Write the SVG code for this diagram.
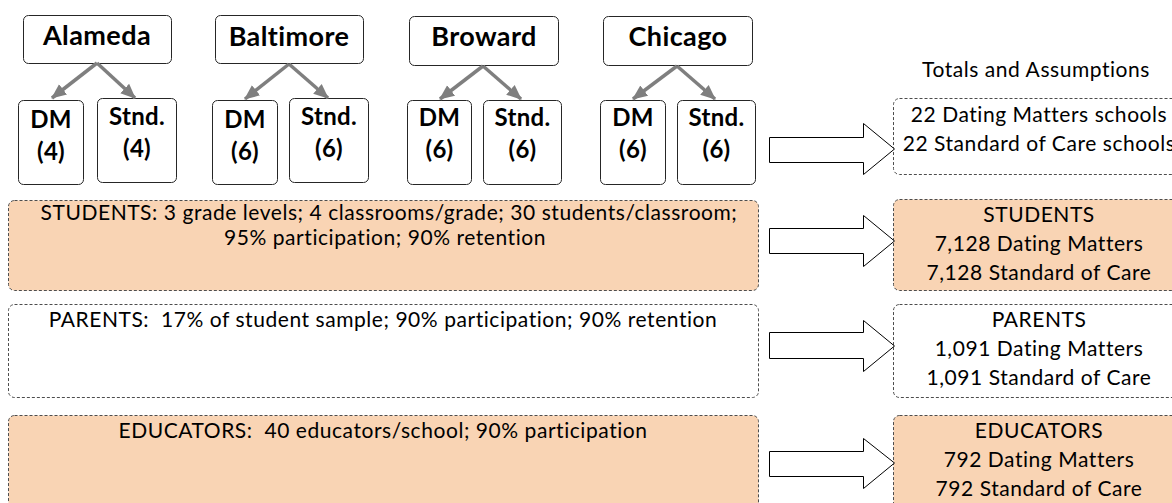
<svg xmlns="http://www.w3.org/2000/svg" width="1172" height="503" viewBox="0 0 1172 503">
  <defs>
    <style>
      .city { fill: #ffffff; stroke: #262626; stroke-width: 1; }
      .city-t { font-family: Lato, "Liberation Sans", sans-serif; font-weight: bold; font-size: 27px; letter-spacing: 0.4px; fill: #000; text-anchor: middle; }
      .arm { fill: #ffffff; stroke: #262626; stroke-width: 1; }
      .arm-t { font-family: Lato, "Liberation Sans", sans-serif; font-weight: bold; font-size: 24px; letter-spacing: 0.3px; fill: #000; text-anchor: middle; }
      .dash { stroke: #4d4d4d; stroke-width: 1; stroke-dasharray: 3 2; }
      .peach { fill: #f9d4b4; }
      .plain { fill: #ffffff; }
      .t { font-family: Lato, "Liberation Sans", sans-serif; font-size: 21px; letter-spacing: 0.55px; fill: #000; text-anchor: middle; }
      .link { fill: none; stroke: #7f7f7f; stroke-width: 3.5; marker-end: url(#head); }
      .block { fill: #ffffff; stroke: #000; stroke-width: 1; }
    </style>
    <marker id="head" markerUnits="userSpaceOnUse" markerWidth="16" markerHeight="16" viewBox="0 0 16 16" refX="14" refY="8" orient="auto">
      <path d="M0,1.5 L15,8 L0,14.5 Z" fill="#7f7f7f"/>
    </marker>
  </defs>

  <!-- heading for the right-hand column -->
  <text class="t" x="1036" y="77">Totals and Assumptions</text>

  <!-- sites -->
  <g id="alameda">
    <rect class="city" x="23.5" y="15.5" width="148" height="48" rx="5"/>
    <text class="city-t" x="97" y="45">Alameda</text>
  </g>
  <g id="baltimore">
    <rect class="city" x="215.5" y="15.5" width="148" height="48" rx="5"/>
    <text class="city-t" x="289" y="46">Baltimore</text>
  </g>
  <g id="broward">
    <rect class="city" x="409.5" y="16.5" width="149" height="49" rx="5"/>
    <text class="city-t" x="484" y="46">Broward</text>
  </g>
  <g id="chicago">
    <rect class="city" x="603.5" y="16.5" width="149" height="49" rx="5"/>
    <text class="city-t" x="678" y="46">Chicago</text>
  </g>

  <!-- study arms per site -->
  <g id="alameda-dm">
    <rect class="arm" x="18.5" y="100.5" width="65" height="84" rx="5"/>
    <text class="arm-t" x="51" y="128">DM</text>
    <text class="arm-t" x="51" y="160">(4)</text>
  </g>
  <g id="alameda-stnd">
    <rect class="arm" x="97.5" y="98.5" width="79" height="84" rx="5"/>
    <text class="arm-t" x="137" y="125">Stnd.</text>
    <text class="arm-t" x="137" y="157">(4)</text>
  </g>
  <g id="baltimore-dm">
    <rect class="arm" x="212.5" y="100.5" width="65" height="84" rx="5"/>
    <text class="arm-t" x="245" y="128">DM</text>
    <text class="arm-t" x="245" y="160">(6)</text>
  </g>
  <g id="baltimore-stnd">
    <rect class="arm" x="289.5" y="98.5" width="79" height="84" rx="5"/>
    <text class="arm-t" x="329" y="125">Stnd.</text>
    <text class="arm-t" x="329" y="157">(6)</text>
  </g>
  <g id="broward-dm">
    <rect class="arm" x="407.5" y="100.5" width="64" height="84" rx="5"/>
    <text class="arm-t" x="439.5" y="126">DM</text>
    <text class="arm-t" x="439.5" y="158">(6)</text>
  </g>
  <g id="broward-stnd">
    <rect class="arm" x="483.5" y="100.5" width="78" height="84" rx="5"/>
    <text class="arm-t" x="522.5" y="126">Stnd.</text>
    <text class="arm-t" x="522.5" y="158">(6)</text>
  </g>
  <g id="chicago-dm">
    <rect class="arm" x="600.5" y="100.5" width="65" height="84" rx="5"/>
    <text class="arm-t" x="633" y="126">DM</text>
    <text class="arm-t" x="633" y="158">(6)</text>
  </g>
  <g id="chicago-stnd">
    <rect class="arm" x="677.5" y="100.5" width="78" height="84" rx="5"/>
    <text class="arm-t" x="716.5" y="126">Stnd.</text>
    <text class="arm-t" x="716.5" y="158">(6)</text>
  </g>

  <!-- sample assumptions -->
  <g id="students">
    <rect class="dash peach" x="8.5" y="200.5" width="750" height="90" rx="6"/>
    <text class="t" x="389" y="220">STUDENTS: 3 grade levels; 4 classrooms/grade; 30 students/classroom;</text>
    <text class="t" x="385" y="245">95% participation; 90% retention</text>
  </g>
  <g id="parents">
    <rect class="dash plain" x="8.5" y="304.5" width="750" height="93" rx="6"/>
    <text class="t" x="383" y="327">PARENTS:&#160; 17% of student sample; 90% participation; 90% retention</text>
  </g>
  <g id="educators">
    <rect class="dash peach" x="8.5" y="415.5" width="750" height="100" rx="6"/>
    <text class="t" x="383" y="438">EDUCATORS:&#160; 40 educators/school; 90% participation</text>
  </g>

  <!-- totals -->
  <g id="total-schools">
    <rect class="dash plain" x="893.5" y="98.5" width="292" height="76" rx="6"/>
    <text class="t" x="1039" y="122">22 Dating Matters schools</text>
    <text class="t" x="1039" y="151">22 Standard of Care schools</text>
  </g>
  <g id="total-students">
    <rect class="dash peach" x="893.5" y="199.5" width="292" height="91" rx="6"/>
    <text class="t" x="1039" y="222">STUDENTS</text>
    <text class="t" x="1039" y="251">7,128 Dating Matters</text>
    <text class="t" x="1039" y="280">7,128 Standard of Care</text>
  </g>
  <g id="total-parents">
    <rect class="dash plain" x="893.5" y="304.5" width="292" height="93" rx="6"/>
    <text class="t" x="1039" y="327">PARENTS</text>
    <text class="t" x="1039" y="356">1,091 Dating Matters</text>
    <text class="t" x="1039" y="385">1,091 Standard of Care</text>
  </g>
  <g id="total-educators">
    <rect class="dash peach" x="893.5" y="415.5" width="292" height="100" rx="6"/>
    <text class="t" x="1039" y="438">EDUCATORS</text>
    <text class="t" x="1039" y="467">792 Dating Matters</text>
    <text class="t" x="1039" y="496">792 Standard of Care</text>
  </g>

  <!-- connectors -->
  <g id="connectors">
    <path class="link" d="M97,63 L52,98"/>
    <path class="link" d="M97,63 L135,98"/>
    <path class="link" d="M289,64 L245,99"/>
    <path class="link" d="M289,64 L328,98"/>
    <path class="link" d="M483,66 L440,99"/>
    <path class="link" d="M483,66 L521,99"/>
    <path class="link" d="M677,66 L633,99"/>
    <path class="link" d="M677,66 L715,99"/>

    <polygon class="block" points="769.5,137.5 863.5,137.5 863.5,123.5 894.5,149 863.5,174.5 863.5,162.5 769.5,162.5"/>
    <polygon class="block" points="769.5,228.5 863.5,228.5 863.5,215.5 894.5,241 863.5,266.5 863.5,253.5 769.5,253.5"/>
    <polygon class="block" points="769.5,332.5 863.5,332.5 863.5,320.5 894.5,346 863.5,371.5 863.5,358.5 769.5,358.5"/>
    <polygon class="block" points="769.5,451.5 863.5,451.5 863.5,438.5 894.5,463 863.5,488.5 863.5,476.5 769.5,476.5"/>
  </g>
</svg>
